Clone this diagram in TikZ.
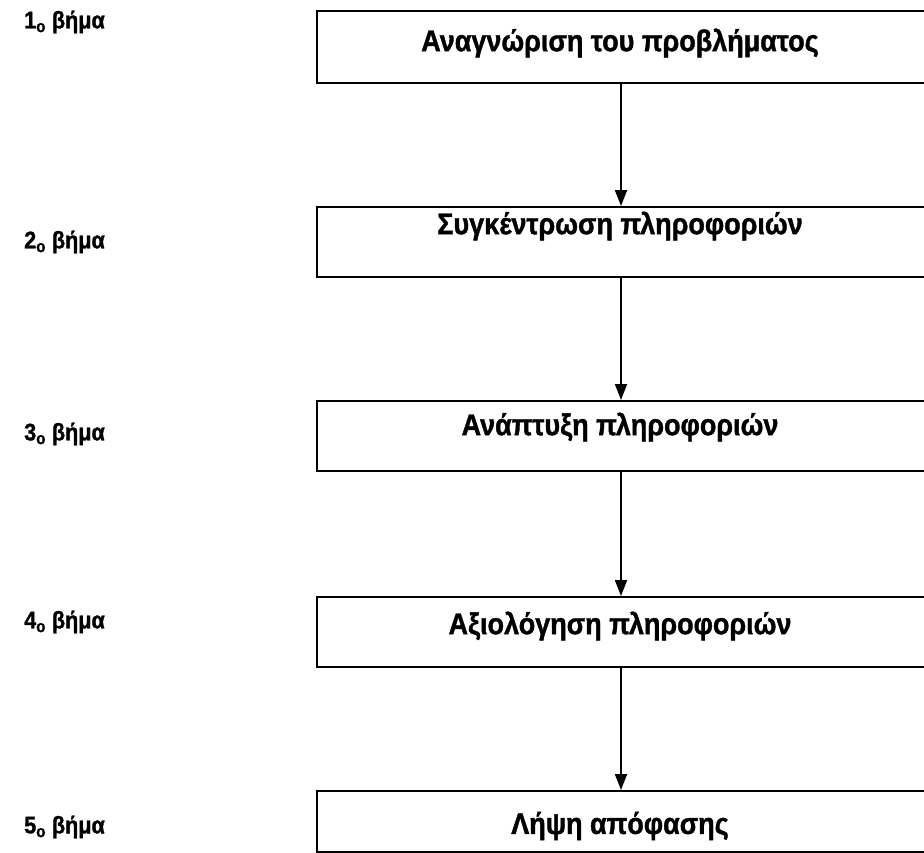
\documentclass[tikz,border=0pt]{standalone}
\usepackage{fontspec}
\setmainfont{Liberation Sans}
\newfontfamily\narrowbold{Liberation Sans}[UprightFont={* Bold}, FakeStretch=0.9, FakeBold=1.2]
\usetikzlibrary{arrows.meta}
\tikzset{
  stepbox/.style={draw=black, line width=2pt, rectangle, minimum width=624pt, inner sep=0pt, anchor=north west},
  boxtext/.style={font=\narrowbold\fontsize{30}{34}\selectfont, inner sep=0pt},
  steplabel/.style={font=\narrowbold\fontsize{24}{28}\selectfont, inner sep=0pt, anchor=west},
  arr/.style={line width=1.8pt, -{Triangle[length=16pt,width=12pt]}}
}
\begin{document}
\begin{tikzpicture}[x=1pt,y=-1pt]
\useasboundingbox (0,0) rectangle (924,852);
\clip (0,0) rectangle (924,852);
\fill[white] (0,0) rectangle (924,852);
\node[stepbox, minimum height=72pt] (b1) at (316,10) {};
\node[stepbox, minimum height=70pt] (b2) at (316,206) {};
\node[stepbox, minimum height=70pt] (b3) at (316,400) {};
\node[stepbox, minimum height=70pt] (b4) at (316,596) {};
\node[stepbox, minimum height=61pt] (b5) at (316,790) {};
\coordinate (col) at (621,0);
\node[boxtext] (t1) at (620,43) {Αναγνώριση του προβλήματος};
\node[boxtext] (t2) at (620,226) {Συγκέντρωση πληροφοριών};
\node[boxtext] (t3) at (620,427) {Ανάπτυξη πληροφοριών};
\node[boxtext] (t4) at (620,626) {Αξιολόγηση πληροφοριών};
\node[boxtext] (t5) at (620,826) {Λήψη απόφασης};
\node[steplabel] (l1) at (24,22) {1\textsubscript{ο} βήμα};
\node[steplabel] (l2) at (24,242) {2\textsubscript{ο} βήμα};
\node[steplabel] (l3) at (24,434) {3\textsubscript{ο} βήμα};
\node[steplabel] (l4) at (24,622) {4\textsubscript{ο} βήμα};
\node[steplabel] (l5) at (24,827) {5\textsubscript{ο} βήμα};
\draw[arr] (b1.south -| col) -- (b2.north -| col);
\draw[arr] (b2.south -| col) -- (b3.north -| col);
\draw[arr] (b3.south -| col) -- (b4.north -| col);
\draw[arr] (b4.south -| col) -- (b5.north -| col);
\end{tikzpicture}
\end{document}
